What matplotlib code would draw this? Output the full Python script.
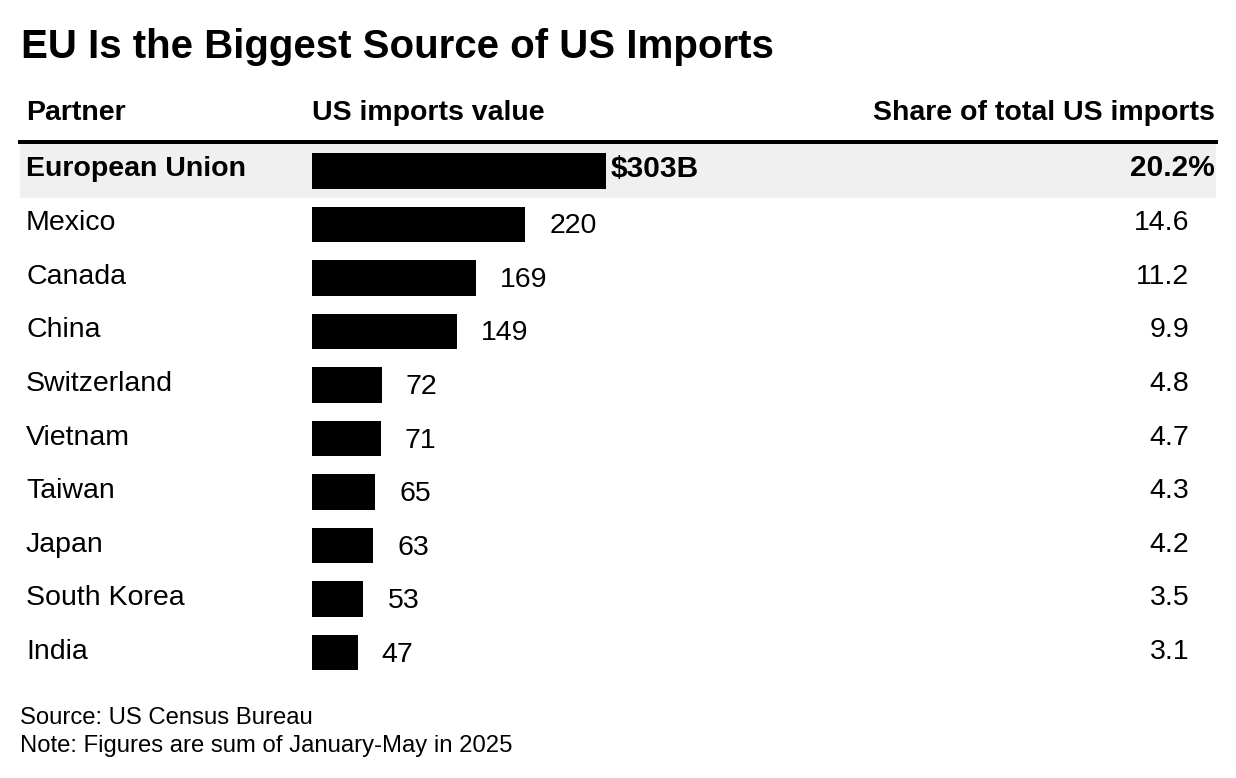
import matplotlib.pyplot as plt
from matplotlib.lines import Line2D

# data
partners = ['European Union', 'Mexico', 'Canada', 'China', 'Switzerland',
            'Vietnam', 'Taiwan', 'Japan', 'South Korea', 'India']
imports_bn = [303, 220, 169, 149, 72, 71, 65, 63, 53, 47]
share_pct = [20.2, 14.6, 11.2, 9.9, 4.8, 4.7, 4.3, 4.2, 3.5, 3.1]

title = 'EU Is the Biggest Source of US Imports'
headers = ['Partner', 'US imports value', 'Share of total US imports']
notes = ['Source: US Census Bureau',
         'Note: Figures are sum of January-May in 2025']

W, H = 1236, 778
PT = 0.72  # points per pixel at dpi 100
plt.rcParams['font.family'] = ['Liberation Sans', 'DejaVu Sans']

fig = plt.figure(figsize=(W / 100, H / 100), dpi=100)


def fx(px):
    return px / W


def fy(py):
    return 1 - py / H


# table area
left_px, right_px = 20, 1216
top_px, row_h = 144, 53.55
zero_px, px_per_bn = 312, 0.97
n = len(partners)

ax = fig.add_axes([fx(left_px), fy(top_px + n * row_h),
                   (right_px - left_px) / W, n * row_h / H])
ax.set_xlim(-(zero_px - left_px) / px_per_bn, (right_px - zero_px) / px_per_bn)
ax.set_ylim(n - 0.5, -0.5)
ax.set_axis_off()

# highlighted first row
ax.axhspan(-0.5, 0.5, facecolor='#f0f0f0', edgecolor='none', zorder=0)

rows = list(range(n))
ax.barh(rows, imports_bn, height=35.5 / row_h, color='black', zorder=2)

body = 20.5
share_x = (1189.5 - left_px) / (right_px - left_px)
share_x_eu = (1215 - left_px) / (right_px - left_px)

for i, (name, val, sh) in enumerate(zip(partners, imports_bn, share_pct)):
    first = i == 0
    weight = 'bold' if first else 'normal'
    # partner name
    ax.annotate(name, xy=((26 - left_px) / (right_px - left_px), i),
                xycoords=('axes fraction', 'data'),
                xytext=(0, -(5 if first else 6) * PT), textcoords='offset points',
                ha='left', va='baseline', fontsize=body, fontweight=weight)
    # value label
    if first:
        ax.annotate(f'${val}B', xy=(val, i), xytext=(5 * PT, -6 * PT),
                    textcoords='offset points', ha='left', va='baseline',
                    fontsize=21.5, fontweight='bold')
    else:
        ax.annotate(f'{val}', xy=(val, i), xytext=(24 * PT, -9 * PT),
                    textcoords='offset points', ha='left', va='baseline',
                    fontsize=body)
    # share
    ax.annotate(f'{sh}%' if first else f'{sh}',
                xy=(share_x_eu if first else share_x, i),
                xycoords=('axes fraction', 'data'),
                xytext=(0, -(5 if first else 6) * PT), textcoords='offset points',
                ha='right', va='baseline', fontsize=21.5 if first else body,
                fontweight=weight)

# header
fig.text(fx(26), fy(120), headers[0], ha='left', va='baseline',
         fontsize=20.5, fontweight='bold')
fig.text(fx(312), fy(120), headers[1], ha='left', va='baseline',
         fontsize=20.5, fontweight='bold')
fig.text(fx(1215), fy(120), headers[2], ha='right', va='baseline',
         fontsize=20.5, fontweight='bold')
fig.add_artist(Line2D([fx(left_px), fx(right_px)], [fy(142), fy(142)],
                      color='black', linewidth=4 * PT,
                      transform=fig.transFigure))

# title and footer
fig.text(fx(21), fy(58), title, ha='left', va='baseline',
         fontsize=29, fontweight='bold')
fig.text(fx(20), fy(724), notes[0], ha='left', va='baseline', fontsize=17.2)
fig.text(fx(20), fy(752), notes[1], ha='left', va='baseline', fontsize=17.2)

fig.savefig('out.png', dpi=100)
